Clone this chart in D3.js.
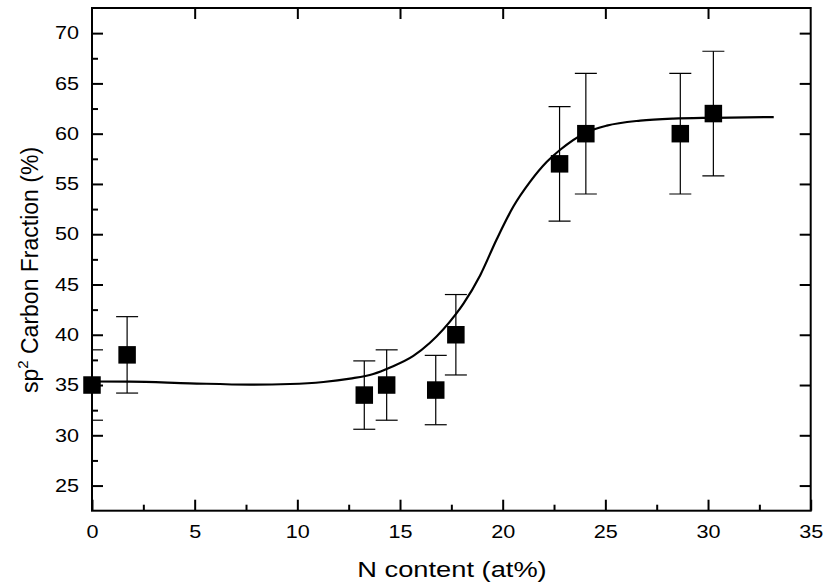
<!DOCTYPE html>
<html>
<head>
<meta charset="utf-8">
<script src="https://cdn.jsdelivr.net/npm/d3@7"></script>
<style>
  body { margin: 0; background: #fff; }
  svg text { font-family: "Liberation Sans", Arial, sans-serif; fill: #000; }
</style>
</head>
<body>
<svg id="chart"></svg>
<script>
// measured points (N content at%, sp2 fraction %, error)
const nContent = [0, 1.71, 13.26, 14.35, 16.74, 17.72, 22.77, 24.05, 28.65, 30.26];
const sp2Fraction = [35.0, 38.0, 34.0, 35.0, 34.5, 40.0, 57.0, 60.0, 60.0, 62.0];
const sp2Error = [3.5, 3.8, 3.4, 3.5, 3.45, 4.0, 5.7, 6.0, 6.0, 6.2];

// fitted curve
const fitX = [0, 1.85, 4.77, 7.7, 9.64, 11.27, 12.57, 13.7, 14.52, 15.65, 16.46, 17.7, 18.09, 18.9, 19.71, 20.52, 21.33, 22.15, 22.8, 24.05, 25.07, 26.7, 28.3, 30.26, 33.2];
const fitY = [35.35, 35.34, 35.17, 35.04, 35.1, 35.3, 35.64, 36.1, 36.75, 37.9, 39.2, 42.0, 43.1, 45.9, 49.5, 52.75, 55.2, 57.2, 58.4, 60.1, 60.8, 61.3, 61.5, 61.58, 61.65];

const xMajor = [0, 5, 10, 15, 20, 25, 30, 35];
const xMinor = [2.5, 7.5, 12.5, 17.5, 22.5, 27.5, 32.5];
const yMajor = [25, 30, 35, 40, 45, 50, 55, 60, 65, 70];
const yMinor = [27.5, 32.5, 37.5, 42.5, 47.5, 52.5, 57.5, 62.5, 67.5];

const margin = { top: 8, right: 15.3, bottom: 76.3, left: 92 };
const W = 826, H = 587;
const width = W - margin.left - margin.right;
const height = H - margin.top - margin.bottom;
const stretch = 1.2; // the original figure's lettering is wide

const svg = d3.select("#chart").attr("width", W).attr("height", H);
const g = svg.append("g").attr("transform", `translate(${margin.left},${margin.top})`);

const x = d3.scaleLinear().domain([0, 35]).range([0, width]);
const y = d3.scaleLinear().domain([22.5, 72.5]).range([height, 0]);

svg.append("defs").append("clipPath").attr("id", "plot-clip")
  .append("rect").attr("width", width).attr("height", height);

// axes - ticks point inward
function styleAxis(sel) {
  sel.select(".domain").remove();
  sel.selectAll(".tick line").attr("stroke", "#000").attr("stroke-width", 2);
  sel.selectAll("text").style("font-size", "18px");
}

g.append("g").attr("transform", `translate(0,${height})`)
  .call(d3.axisBottom(x).tickValues(xMajor).tickSize(-11).tickPadding(15).tickFormat(d3.format("d")))
  .call(styleAxis)
  .selectAll("text").attr("transform", `scale(${stretch},1)`);
g.append("g").attr("transform", `translate(0,${height})`)
  .call(d3.axisBottom(x).tickValues(xMinor).tickSize(-6).tickFormat(""))
  .call(styleAxis);
g.append("g")
  .call(d3.axisTop(x).tickValues(xMajor.slice(1, -1)).tickSize(-11).tickFormat(""))
  .call(styleAxis);

g.append("g")
  .call(d3.axisLeft(y).tickValues(yMajor).tickSize(-11).tickPadding(13).tickFormat(d3.format("d")))
  .call(styleAxis)
  .selectAll("text").attr("x", -13 / stretch).attr("transform", `scale(${stretch},1)`);
g.append("g")
  .call(d3.axisLeft(y).tickValues(yMinor).tickSize(-6).tickFormat(""))
  .call(styleAxis);
g.append("g").attr("transform", `translate(${width},0)`)
  .call(d3.axisRight(y).tickValues(yMajor).tickSize(-11).tickFormat(""))
  .call(styleAxis);

// error bars
const pts = nContent.map((d, i) => ({ x: d, y: sp2Fraction[i], e: sp2Error[i] }));
const eb = g.append("g").attr("clip-path", "url(#plot-clip)")
  .attr("stroke", "#000").attr("stroke-width", 1.2);
const capW = 11;
eb.selectAll(".ev").data(pts).enter().append("line")
  .attr("x1", d => x(d.x)).attr("x2", d => x(d.x))
  .attr("y1", d => y(d.y + d.e)).attr("y2", d => y(d.y - d.e));
eb.selectAll(".ct").data(pts).enter().append("line")
  .attr("x1", d => x(d.x) - capW).attr("x2", d => x(d.x) + capW)
  .attr("y1", d => y(d.y + d.e)).attr("y2", d => y(d.y + d.e));
eb.selectAll(".cb").data(pts).enter().append("line")
  .attr("x1", d => x(d.x) - capW).attr("x2", d => x(d.x) + capW)
  .attr("y1", d => y(d.y - d.e)).attr("y2", d => y(d.y - d.e));

// fit curve
const line = d3.line().x(d => x(d[0])).y(d => y(d[1])).curve(d3.curveMonotoneX);
g.append("path")
  .datum(fitX.map((d, i) => [d, fitY[i]]))
  .attr("fill", "none").attr("stroke", "#000").attr("stroke-width", 2.2)
  .attr("d", line);

// markers
const sz = 17.5;
g.selectAll(".pt").data(pts).enter().append("rect")
  .attr("x", d => x(d.x) - sz / 2).attr("y", d => y(d.y) - sz / 2)
  .attr("width", sz).attr("height", sz).attr("fill", "#000");

// frame
g.append("rect").attr("width", width).attr("height", height)
  .attr("fill", "none").attr("stroke", "#000").attr("stroke-width", 2);

// axis titles
svg.append("text")
  .attr("transform", `translate(452,577) scale(1.24,1)`)
  .attr("text-anchor", "middle").style("font-size", "22px")
  .text("N content (at%)");

const yt = svg.append("text")
  .attr("transform", `translate(38,270) rotate(-90)`)
  .attr("text-anchor", "middle").style("font-size", "23px");
yt.append("tspan").text("sp");
yt.append("tspan").attr("dy", -10).style("font-size", "15px").text("2");
yt.append("tspan").attr("dy", 10).text(" Carbon Fraction (%)");
</script>
</body>
</html>
